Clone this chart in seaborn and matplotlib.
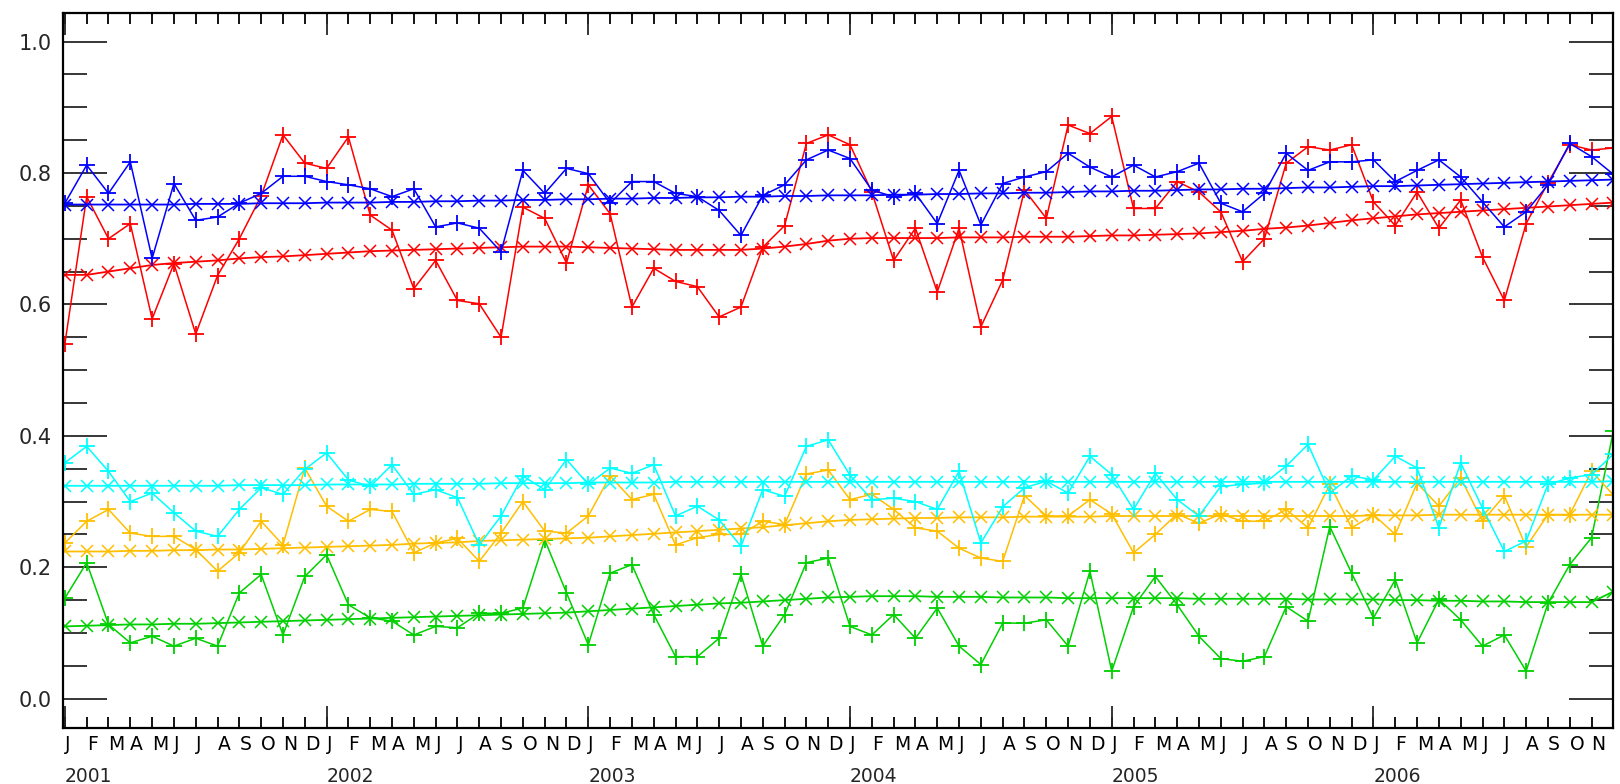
import matplotlib
matplotlib.use("Agg")
import matplotlib.pyplot as plt
import seaborn as sns
import numpy as np

# monthly values Jan 2001 .. Dec 2006 (72 months)
month_letters = ["J", "F", "M", "A", "M", "J", "J", "A", "S", "O", "N", "D"]
years = ["2001", "2002", "2003", "2004", "2005", "2006"]

red_monthly = [
    0.540, 0.764, 0.700, 0.723, 0.578, 0.662, 0.555, 0.644, 0.700, 0.765, 0.858, 0.815,
    0.807, 0.855, 0.736, 0.713, 0.624, 0.667, 0.606, 0.601, 0.550, 0.748, 0.731, 0.663,
    0.782, 0.738, 0.596, 0.655, 0.635, 0.627, 0.581, 0.596, 0.687, 0.720, 0.845, 0.858,
    0.843, 0.771, 0.667, 0.716, 0.619, 0.716, 0.566, 0.637, 0.774, 0.731, 0.873, 0.860,
    0.886, 0.746, 0.746, 0.787, 0.771, 0.741, 0.665, 0.700, 0.815, 0.840, 0.835, 0.843,
    0.756, 0.720, 0.771, 0.716, 0.759, 0.672, 0.606, 0.723, 0.785, 0.843, 0.835, 0.838,
]
red_trend = [
    0.645, 0.645, 0.650, 0.655, 0.660, 0.663, 0.665, 0.667, 0.670, 0.672, 0.673, 0.675,
    0.677, 0.679, 0.681, 0.682, 0.683, 0.684, 0.685, 0.686, 0.687, 0.688, 0.688, 0.688,
    0.687, 0.686, 0.685, 0.684, 0.683, 0.683, 0.683, 0.683, 0.685, 0.688, 0.692, 0.697,
    0.700, 0.701, 0.701, 0.701, 0.701, 0.702, 0.702, 0.702, 0.703, 0.703, 0.703, 0.704,
    0.705, 0.705, 0.706, 0.707, 0.708, 0.710, 0.712, 0.715, 0.717, 0.720, 0.724, 0.728,
    0.731, 0.734, 0.737, 0.739, 0.741, 0.743, 0.745, 0.747, 0.749, 0.751, 0.753, 0.755,
]
blue_monthly = [
    0.754, 0.812, 0.769, 0.817, 0.670, 0.784, 0.728, 0.733, 0.754, 0.769, 0.795, 0.795,
    0.787, 0.782, 0.776, 0.764, 0.776, 0.718, 0.724, 0.716, 0.680, 0.804, 0.769, 0.807,
    0.799, 0.754, 0.787, 0.787, 0.769, 0.764, 0.743, 0.705, 0.766, 0.782, 0.820, 0.835,
    0.822, 0.774, 0.764, 0.769, 0.723, 0.804, 0.721, 0.784, 0.794, 0.802, 0.830, 0.809,
    0.794, 0.812, 0.794, 0.802, 0.815, 0.754, 0.741, 0.769, 0.830, 0.804, 0.817, 0.817,
    0.820, 0.787, 0.804, 0.820, 0.794, 0.756, 0.718, 0.741, 0.782, 0.845, 0.825, 0.798,
]
blue_trend = [
    0.752, 0.752, 0.752, 0.752, 0.752, 0.752, 0.753, 0.753, 0.753, 0.754, 0.754, 0.754,
    0.755, 0.755, 0.755, 0.756, 0.756, 0.757, 0.757, 0.758, 0.758, 0.759, 0.759, 0.760,
    0.760, 0.761, 0.761, 0.762, 0.762, 0.763, 0.763, 0.764, 0.764, 0.765, 0.765, 0.766,
    0.766, 0.766, 0.767, 0.767, 0.768, 0.768, 0.769, 0.769, 0.770, 0.770, 0.771, 0.772,
    0.772, 0.773, 0.773, 0.774, 0.775, 0.775, 0.776, 0.776, 0.777, 0.778, 0.778, 0.779,
    0.780, 0.780, 0.781, 0.782, 0.783, 0.784, 0.785, 0.786, 0.787, 0.788, 0.789, 0.790,
]
cyan_monthly = [
    0.359, 0.384, 0.346, 0.300, 0.313, 0.283, 0.255, 0.247, 0.288, 0.321, 0.311, 0.349,
    0.374, 0.333, 0.323, 0.356, 0.311, 0.318, 0.306, 0.234, 0.278, 0.339, 0.318, 0.364,
    0.326, 0.351, 0.343, 0.356, 0.278, 0.293, 0.272, 0.232, 0.318, 0.308, 0.384, 0.394,
    0.340, 0.303, 0.305, 0.300, 0.288, 0.346, 0.237, 0.292, 0.321, 0.331, 0.313, 0.369,
    0.341, 0.288, 0.343, 0.303, 0.278, 0.323, 0.326, 0.328, 0.354, 0.387, 0.313, 0.339,
    0.333, 0.369, 0.351, 0.260, 0.359, 0.290, 0.224, 0.240, 0.326, 0.336, 0.341, 0.372,
]
cyan_trend = [
    0.324, 0.324, 0.324, 0.324, 0.324, 0.324, 0.324, 0.324, 0.325, 0.325, 0.325, 0.325,
    0.326, 0.326, 0.326, 0.326, 0.327, 0.327, 0.327, 0.327, 0.328, 0.328, 0.328, 0.328,
    0.329, 0.329, 0.329, 0.329, 0.330, 0.330, 0.330, 0.330, 0.330, 0.330, 0.330, 0.330,
    0.330, 0.330, 0.330, 0.330, 0.330, 0.330, 0.330, 0.330, 0.330, 0.330, 0.330, 0.330,
    0.330, 0.330, 0.330, 0.330, 0.330, 0.330, 0.330, 0.330, 0.330, 0.330, 0.330, 0.330,
    0.330, 0.330, 0.330, 0.330, 0.330, 0.330, 0.330, 0.330, 0.330, 0.330, 0.330, 0.331,
]
yellow_monthly = [
    0.237, 0.270, 0.288, 0.252, 0.247, 0.247, 0.227, 0.194, 0.222, 0.270, 0.234, 0.351,
    0.293, 0.270, 0.288, 0.285, 0.222, 0.237, 0.244, 0.209, 0.252, 0.300, 0.255, 0.252,
    0.278, 0.339, 0.303, 0.311, 0.234, 0.245, 0.250, 0.250, 0.270, 0.265, 0.342, 0.348,
    0.303, 0.311, 0.288, 0.260, 0.255, 0.229, 0.214, 0.209, 0.309, 0.278, 0.278, 0.303,
    0.281, 0.222, 0.250, 0.281, 0.267, 0.281, 0.270, 0.270, 0.288, 0.260, 0.326, 0.260,
    0.280, 0.250, 0.328, 0.293, 0.336, 0.270, 0.309, 0.231, 0.280, 0.280, 0.346, 0.310,
]
yellow_trend = [
    0.224, 0.224, 0.224, 0.225, 0.225, 0.226, 0.226, 0.227, 0.227, 0.228, 0.229, 0.230,
    0.231, 0.232, 0.233, 0.234, 0.236, 0.237, 0.238, 0.240, 0.241, 0.242, 0.243, 0.244,
    0.245, 0.247, 0.249, 0.251, 0.253, 0.255, 0.257, 0.259, 0.261, 0.264, 0.267, 0.270,
    0.272, 0.273, 0.274, 0.275, 0.275, 0.276, 0.276, 0.276, 0.277, 0.277, 0.277, 0.277,
    0.278, 0.278, 0.278, 0.278, 0.278, 0.278, 0.278, 0.278, 0.278, 0.278, 0.278, 0.278,
    0.279, 0.279, 0.279, 0.280, 0.280, 0.280, 0.280, 0.280, 0.280, 0.280, 0.280, 0.280,
]
green_monthly = [
    0.153, 0.207, 0.113, 0.085, 0.095, 0.080, 0.092, 0.080, 0.161, 0.189, 0.097, 0.186,
    0.219, 0.143, 0.123, 0.118, 0.097, 0.110, 0.108, 0.130, 0.130, 0.138, 0.242, 0.161,
    0.082, 0.191, 0.204, 0.128, 0.064, 0.064, 0.092, 0.189, 0.080, 0.128, 0.207, 0.214,
    0.110, 0.097, 0.128, 0.092, 0.138, 0.080, 0.052, 0.115, 0.115, 0.120, 0.080, 0.194,
    0.042, 0.140, 0.186, 0.143, 0.095, 0.061, 0.057, 0.064, 0.140, 0.118, 0.262, 0.191,
    0.123, 0.181, 0.085, 0.151, 0.120, 0.080, 0.097, 0.042, 0.145, 0.204, 0.245, 0.407,
]
green_trend = [
    0.110, 0.111, 0.112, 0.113, 0.113, 0.114, 0.114, 0.115, 0.116, 0.117, 0.118, 0.119,
    0.120, 0.121, 0.122, 0.123, 0.124, 0.125, 0.126, 0.127, 0.128, 0.129, 0.130, 0.131,
    0.133, 0.135, 0.137, 0.139, 0.141, 0.143, 0.145, 0.146, 0.148, 0.150, 0.152, 0.154,
    0.155, 0.156, 0.156, 0.156, 0.155, 0.155, 0.155, 0.154, 0.154, 0.154, 0.153, 0.153,
    0.153, 0.153, 0.153, 0.153, 0.152, 0.152, 0.152, 0.152, 0.152, 0.151, 0.151, 0.151,
    0.151, 0.150, 0.150, 0.149, 0.149, 0.148, 0.148, 0.147, 0.147, 0.147, 0.147, 0.163,
]

series = [
    (green_monthly, green_trend, "#00d000"),
    (yellow_monthly, yellow_trend, "#ffbf00"),
    (cyan_monthly, cyan_trend, "#00ffff"),
    (red_monthly, red_trend, "#ff0000"),
    (blue_monthly, blue_trend, "#0000ff"),
]

sns.set_style("ticks")
plt.rcParams["font.family"] = ["DejaVu Sans"]

fig = plt.figure(figsize=(16.2, 7.84), dpi=100)
ax = fig.add_axes([0.0387, 0.0711, 0.9572, 0.9119])

months = np.arange(len(red_monthly))
for monthly, trend, col in series:
    sns.lineplot(x=months, y=trend, ax=ax, color=col, marker="x", markersize=9,
                 markeredgecolor=col, markeredgewidth=1.1, linewidth=1.3, legend=False)
    sns.lineplot(x=months, y=monthly, ax=ax, color=col, marker="+", markersize=12,
                 markeredgecolor=col, markeredgewidth=1.3, linewidth=1.1, legend=False)

ax.set_xlim(-0.1, 71.0)
ax.set_ylim(-0.045, 1.043)

# x axis: month letters on every month (last one falls on the frame), long ticks at each January
labels = [month_letters[m % 12] for m in months]
labels[-1] = ""
ax.set_xticks(months)
ax.set_xticklabels(labels, ha="left", fontsize=13.5)
ax.set_xticks(np.arange(0, len(months), 12), minor=True)
ax.xaxis.remove_overlapping_locs = False
ax.tick_params(axis="x", which="major", direction="in", length=8, width=1.3,
               top=True, bottom=True, pad=5, colors="black")
ax.tick_params(axis="x", which="minor", direction="in", length=16, width=1.3,
               top=True, bottom=True)
for k, yr in enumerate(years):
    ax.text(12 * k, -0.054, yr, transform=ax.get_xaxis_transform(),
            ha="left", va="top", fontsize=13.5)

# y axis
ax.set_yticks(np.arange(0, 1.01, 0.2))
ax.set_yticklabels([f"{v:.1f}" for v in np.arange(0, 1.01, 0.2)], fontsize=15)
ax.set_yticks(np.arange(0, 1.04, 0.05), minor=True)
ax.tick_params(axis="y", which="major", direction="in", length=32, width=1.3,
               left=True, right=True, pad=8)
ax.tick_params(axis="y", which="minor", direction="in", length=17, width=1.3,
               left=True, right=True)

ax.set_xlabel("")
ax.set_ylabel("")
for sp in ax.spines.values():
    sp.set_visible(True)
    sp.set_linewidth(1.6)
    sp.set_color("black")

fig.savefig("out.png", dpi=100, facecolor="white")
